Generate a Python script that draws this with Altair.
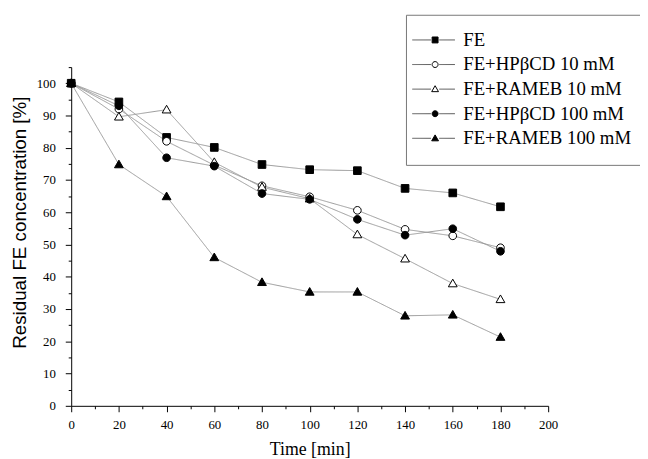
import altair as alt
import pandas as pd

time_min = [0, 20, 40, 60, 80, 100, 120, 140, 160, 180]
series_names = ["FE", "FE+HPβCD 10 mM", "FE+RAMEB 10 mM", "FE+HPβCD 100 mM", "FE+RAMEB 100 mM"]
fe = [100, 94.2, 83.2, 80.1, 74.8, 73.2, 72.9, 67.4, 66.0, 61.7]
hp10 = [100, 92.0, 82.0, 74.6, 68.2, 64.8, 60.6, 54.7, 52.7, 49.0]
ra10 = [100, 89.6, 91.8, 75.5, 67.8, 64.2, 53.1, 45.6, 37.9, 33.0]
hp100 = [100, 93.0, 76.9, 74.3, 65.8, 64.0, 57.8, 52.9, 54.9, 47.9]
ra100 = [100, 74.8, 64.9, 46.0, 38.3, 35.3, 35.3, 27.9, 28.2, 21.3]

x_ticks = list(range(0, 201, 10))
y_ticks = list(range(0, 106, 5))

square = "M-1,-1H1V1H-1Z"
circle = "M1,0A1,1,0,1,1,-1,0A1,1,0,1,1,1,0Z"
tri = "M0,-1.15L1.15,0.85H-1.15Z"
shapes = [square, circle, tri, circle, tri]
fills = ["black", "white", "white", "black", "black"]
outlines = ["black"] * 5
line_stub = "M-7.7,0H-1.4M1.4,0H6.7"

rows = []
for name, vals in zip(series_names, [fe, hp10, ra10, hp100, ra100]):
    for t, v in zip(time_min, vals):
        rows.append({"time": t, "value": v, "series": name})
df = pd.DataFrame(rows)

serif = "Liberation Serif"
sans = "Liberation Sans"

x_enc = alt.X(
    "time:Q",
    scale=alt.Scale(domain=[0, 200], nice=False, zero=False),
    axis=alt.Axis(
        values=x_ticks,
        labelExpr="datum.value % 20 === 0 ? datum.label : ''",
        labelOverlap=False,
        title="Time [min]",
        titleFont=serif,
        titleFontSize=18,
        titleFontWeight="normal",
        titlePadding=9,
        labelFont=serif,
        labelFontSize=13,
        labelPadding=7,
        tickSize={"condition": {"test": "datum.value % 20 === 0", "value": 6}, "value": 3},
        grid=False,
        domainColor="black",
        tickColor="black",
        labelColor="black",
        titleColor="black",
        labelFlush=False,
    ),
)
y_enc = alt.Y(
    "value:Q",
    scale=alt.Scale(domain=[0, 105], nice=False, zero=False),
    axis=alt.Axis(
        values=y_ticks,
        labelExpr="datum.value % 10 === 0 && datum.value <= 100 ? datum.label : ''",
        labelOverlap=False,
        title="Residual FE concentration [%]",
        titleFont=sans,
        titleFontSize=19,
        titleFontWeight="normal",
        titleX=-52,
        titleY=157,
        titleAngle=270,
        titleAlign="center",
        titleBaseline="middle",
        labelFont=serif,
        labelFontSize=13,
        labelPadding=10,
        tickSize={"condition": {"test": "datum.value % 10 === 0", "value": 6}, "value": 3},
        grid=False,
        domainColor="black",
        tickColor="black",
        labelColor="black",
        titleColor="black",
        labelFlush=False,
    ),
)

leg_common = dict(
    title=None,
    orient="none",
    legendX=339,
    legendY=-53,
    padding=16,
    labelFont=serif,
    labelFontSize=19,
    labelLimit=400,
    symbolSize=36,
    symbolOffset=4,
    labelOffset=19,
    rowPadding=4.9,
)

marker_legend = alt.Legend(
    **leg_common,
    strokeColor="#777777",
    fillColor="white",
    labelColor="black",
    symbolStrokeWidth=1,
    symbolOpacity=1,
)

stub_legend = alt.Legend(
    **leg_common,
    labelOpacity=0,
    symbolType=line_stub,
    symbolStrokeColor="#555555",
    symbolStrokeWidth=1,
    symbolFillColor="transparent",
    zindex=2,
)

base = alt.Chart(df).encode(x=x_enc, y=y_enc)

lines = base.mark_line(color="#999999", strokeWidth=1).encode(
    strokeDash=alt.StrokeDash(
        "series:N",
        sort=series_names,
        scale=alt.Scale(range=[[1, 0]] * 5),
        legend=stub_legend,
    )
)
points = base.mark_point(filled=True, strokeWidth=1, size=60, opacity=1).encode(
    shape=alt.Shape(
        "series:N",
        scale=alt.Scale(domain=series_names, range=shapes),
        legend=marker_legend,
    ),
    fill=alt.Fill(
        "series:N",
        scale=alt.Scale(domain=series_names, range=fills),
        legend=marker_legend,
    ),
    stroke=alt.Stroke(
        "series:N",
        scale=alt.Scale(domain=series_names, range=outlines),
        legend=marker_legend,
    ),
)

chart = (
    alt.layer(lines, points)
    .properties(
        width=483,
        height=343,
        background="white",
        autosize=alt.AutoSizeParams(type="none"),
        padding={"left": 64, "top": 57, "right": 93, "bottom": 51},
    )
    .configure_view(stroke=None)
)

chart.save("out.html", embed_options={"renderer": "svg", "actions": False})
